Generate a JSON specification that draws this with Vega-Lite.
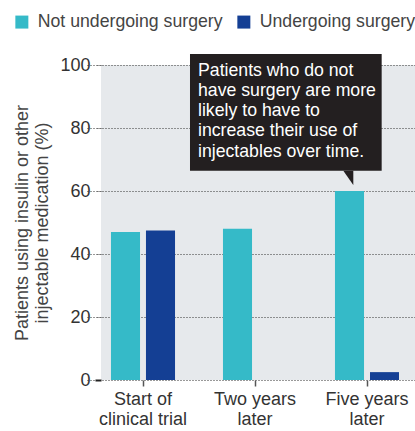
{
  "$schema": "https://vega.github.io/schema/vega-lite/v6.json",
  "width": 314,
  "height": 315,
  "autosize": {"type": "none"},
  "padding": {"left": 101, "top": 65, "right": 0, "bottom": 51},
  "config": {
    "view": {"fill": "#e6e9ec", "stroke": null},
    "font": "Liberation Sans"
  },
  "layer": [
    {
      "data": {
        "values": [
          {"time": "Start of|clinical trial", "group": "Not undergoing surgery", "pct": 47},
          {"time": "Start of|clinical trial", "group": "Undergoing surgery", "pct": 47.5},
          {"time": "Two years|later", "group": "Not undergoing surgery", "pct": 48},
          {"time": "Five years|later", "group": "Not undergoing surgery", "pct": 60},
          {"time": "Five years|later", "group": "Undergoing surgery", "pct": 2.5}
        ]
      },
      "mark": {"type": "bar"},
      "encoding": {
        "x": {
          "field": "time",
          "type": "nominal",
          "sort": null,
          "scale": {"range": [-14, 322], "paddingInner": 0.375, "paddingOuter": 0.1875},
          "axis": {
            "title": null,
            "labelAngle": 0,
            "labelExpr": "split(datum.label, '|')",
            "labelFontSize": 18,
            "labelColor": "#333333",
            "labelLineHeight": 20,
            "labelPadding": 4,
            "tickSize": 6,
            "tickColor": "#555555",
            "tickWidth": 1.5,
            "domain": false,
            "grid": false
          }
        },
        "xOffset": {
          "field": "group",
          "type": "nominal",
          "scale": {"paddingInner": 0.17, "paddingOuter": 0.085}
        },
        "y": {
          "field": "pct",
          "type": "quantitative",
          "scale": {"domain": [0, 100], "nice": false},
          "axis": {
            "title": ["Patients using insulin or other", "injectable medication (%)"],
            "values": [0, 20, 40, 60, 80, 100],
            "domain": false,
            "grid": true,
            "gridDash": [1, 2],
            "gridColor": "#333333",
            "gridWidth": 1,
            "tickSize": 6,
            "tickDash": {"condition": {"test": "datum.value === 0", "value": []}, "value": [1, 2]},
            "tickColor": {"condition": {"test": "datum.value === 0", "value": "#222222"}, "value": "#444444"},
            "tickWidth": {"condition": {"test": "datum.value === 0", "value": 2}, "value": 1},
            "labelFontSize": 18,
            "labelColor": "#333333",
            "labelPadding": 5,
            "titleFontSize": 18,
            "titleFontWeight": "normal",
            "titleColor": "#444444",
            "titleLineHeight": 20,
            "titlePadding": 8
          }
        },
        "color": {
          "field": "group",
          "type": "nominal",
          "scale": {"domain": ["Not undergoing surgery", "Undergoing surgery"], "range": ["#35bac8", "#143f94"]},
          "legend": {
            "title": null,
            "orient": "none",
            "legendX": -88,
            "legendY": -52,
            "direction": "horizontal",
            "padding": 0,
            "symbolType": "square",
            "symbolSize": 169,
            "symbolStrokeWidth": 0,
            "labelFontSize": 17.7,
            "labelColor": "#444444",
            "labelOffset": 7,
            "labelLimit": 400,
            "columnPadding": 12
          }
        }
      }
    },
    {
      "mark": {"type": "rule", "color": "#222222", "strokeWidth": 2},
      "encoding": {"y": {"datum": 0}}
    },
    {
      "data": {"values": [{"x1": 0.4196, "x2": 2.131, "y1": 103.5, "y2": 66.4}]},
      "mark": {"type": "rect", "color": "#231f20"},
      "encoding": {
        "x": {"field": "x1", "type": "quantitative", "scale": {"domain": [-0.5, 2.5], "range": [-14, 322], "nice": false, "zero": false}, "axis": null},
        "x2": {"field": "x2"},
        "y": {"field": "y1", "type": "quantitative", "scale": {"domain": [0, 100], "nice": false}},
        "y2": {"field": "y2"}
      }
    },
    {
      "data": {"values": [{"px": 1.833, "py": 64.2}]},
      "mark": {"type": "point", "filled": true, "color": "#231f20", "opacity": 1, "shape": "M-0.7,-1L0.7,-1L0.7,1Z", "size": 204},
      "encoding": {
        "x": {"field": "px", "type": "quantitative", "scale": {"domain": [-0.5, 2.5], "range": [-14, 322], "nice": false, "zero": false}, "axis": null},
        "y": {"field": "py", "type": "quantitative", "scale": {"domain": [0, 100], "nice": false}}
      }
    },
    {
      "data": {"values": [{"tx": 0.491, "ty": 101, "note": "Patients who do not|have surgery are more|likely to have to|increase their use of|injectables over time."}]},
      "mark": {"type": "text", "align": "left", "baseline": "top", "lineBreak": "|", "lineHeight": 20.2, "fontSize": 17.7, "color": "#ffffff"},
      "encoding": {
        "x": {"field": "tx", "type": "quantitative", "scale": {"domain": [-0.5, 2.5], "range": [-14, 322], "nice": false, "zero": false}, "axis": null},
        "y": {"field": "ty", "type": "quantitative", "scale": {"domain": [0, 100], "nice": false}},
        "text": {"field": "note"}
      }
    }
  ],
  "resolve": {"scale": {"x": "independent"}}
}
